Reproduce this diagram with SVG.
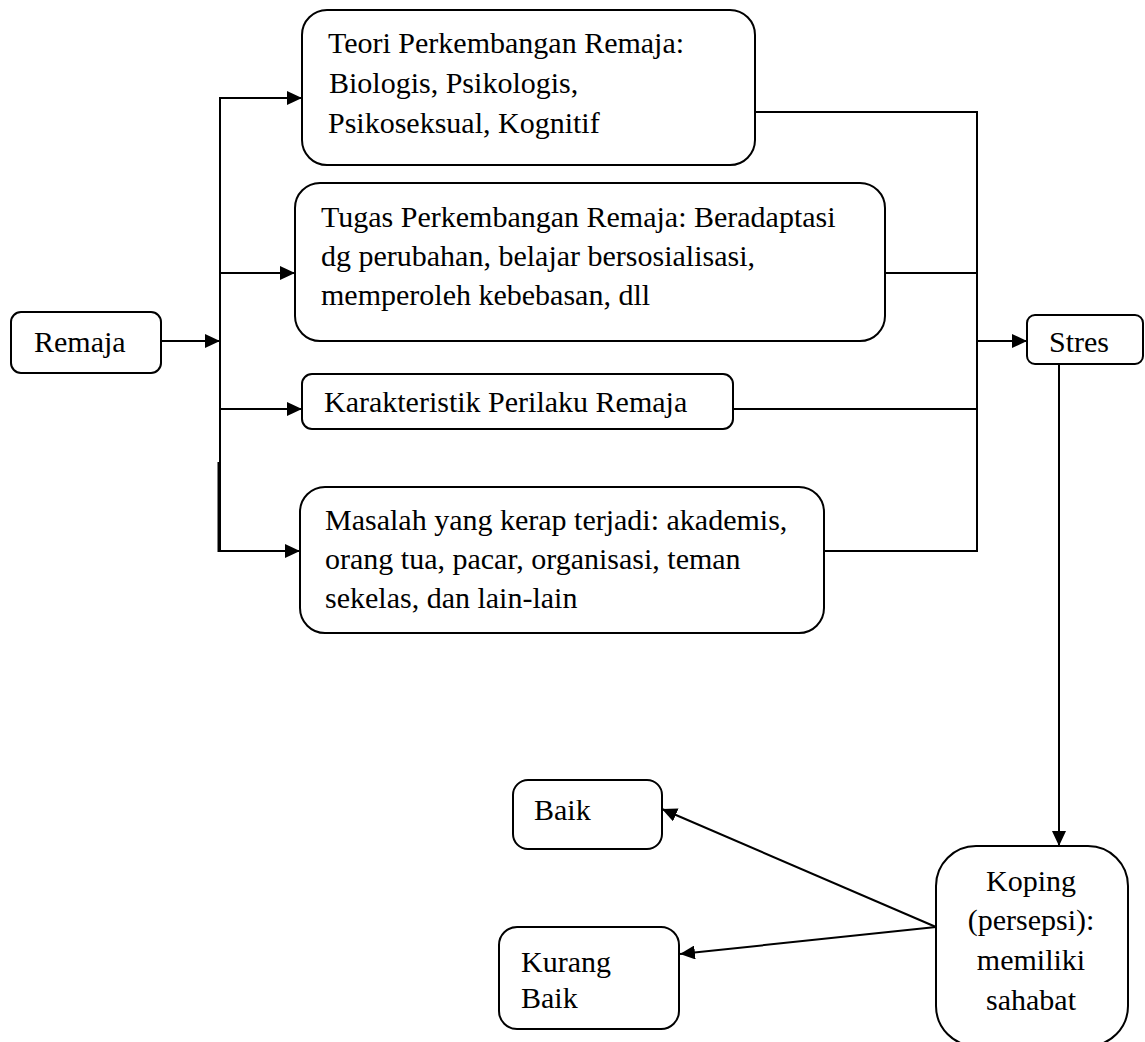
<svg xmlns="http://www.w3.org/2000/svg" width="1145" height="1042" viewBox="0 0 1145 1042">
<style>
.box{fill:#fff;stroke:#000;stroke-width:2}
.t{font-family:"Liberation Serif","Times New Roman",serif;font-size:30px;fill:#000}
.c{fill:none;stroke:#000;stroke-width:2}
</style>
<defs>
<marker id="arr" markerUnits="userSpaceOnUse" markerWidth="15" markerHeight="14" refX="15" refY="7" orient="auto">
<path d="M0,0 L15,7 L0,14 z" fill="#000"/>
</marker>
</defs>
<rect width="1145" height="1042" fill="#fff"/>
<g id="remaja"><rect class="box" x="11" y="312" width="150" height="61" rx="10"/><text class="t" x="34" y="352">Remaja</text></g>
<g id="teori"><rect class="box" x="302" y="10" width="453" height="155" rx="25"/>
<text class="t" x="328" y="53">Teori Perkembangan Remaja:</text>
<text class="t" x="329" y="93">Biologis, Psikologis,</text>
<text class="t" x="328" y="133">Psikoseksual, Kognitif</text></g>
<g id="tugas"><rect class="box" x="295" y="183" width="590" height="158" rx="25"/>
<text class="t" x="321" y="227">Tugas Perkembangan Remaja: Beradaptasi</text>
<text class="t" x="321" y="266">dg perubahan, belajar bersosialisasi,</text>
<text class="t" x="321" y="305">memperoleh kebebasan, dll</text></g>
<g id="karakteristik"><rect class="box" x="302" y="374" width="431" height="55" rx="10"/>
<text class="t" x="324" y="412">Karakteristik Perilaku Remaja</text></g>
<g id="masalah"><rect class="box" x="300" y="487" width="524" height="146" rx="25"/>
<text class="t" x="325" y="530">Masalah yang kerap terjadi: akademis,</text>
<text class="t" x="325" y="569">orang tua, pacar, organisasi, teman</text>
<text class="t" x="325" y="608">sekelas, dan lain-lain</text></g>
<g id="stres"><rect class="box" x="1027" y="315" width="116" height="49" rx="8"/>
<text class="t" x="1049" y="352">Stres</text></g>
<g id="koping"><rect class="box" x="936" y="846" width="192" height="200" rx="40"/>
<text class="t" x="1031" y="891" text-anchor="middle">Koping</text>
<text class="t" x="1031" y="930" text-anchor="middle">(persepsi):</text>
<text class="t" x="1031" y="970" text-anchor="middle">memiliki</text>
<text class="t" x="1031" y="1010" text-anchor="middle">sahabat</text></g>
<g id="baik"><rect class="box" x="513" y="780" width="149" height="69" rx="15"/>
<text class="t" x="534" y="820">Baik</text></g>
<g id="kurang"><rect class="box" x="499" y="927" width="180" height="102" rx="18"/>
<text class="t" x="521" y="972">Kurang</text>
<text class="t" x="521" y="1008">Baik</text></g>
<g id="connectors">
<line class="c" x1="161" y1="341" x2="220" y2="341" marker-end="url(#arr)"/>
<line class="c" x1="220" y1="97" x2="220" y2="552"/>
<line class="c" x1="218.5" y1="462" x2="218.5" y2="552"/>
<line class="c" x1="219" y1="98" x2="302" y2="98" marker-end="url(#arr)"/>
<line class="c" x1="219" y1="273" x2="295" y2="273" marker-end="url(#arr)"/>
<line class="c" x1="219" y1="409" x2="302" y2="409" marker-end="url(#arr)"/>
<line class="c" x1="218" y1="551" x2="300" y2="551" marker-end="url(#arr)"/>
<line class="c" x1="755" y1="112" x2="978" y2="112"/>
<line class="c" x1="885" y1="273" x2="977" y2="273"/>
<line class="c" x1="733" y1="409" x2="977" y2="409"/>
<line class="c" x1="824" y1="551" x2="978" y2="551"/>
<line class="c" x1="977" y1="111" x2="977" y2="552"/>
<line class="c" x1="977" y1="341" x2="1027" y2="341" marker-end="url(#arr)"/>
<line class="c" x1="1059" y1="364" x2="1059" y2="846" marker-end="url(#arr)"/>
<line class="c" x1="936" y1="927" x2="662" y2="809" marker-end="url(#arr)"/>
<line class="c" x1="936" y1="927" x2="680" y2="954" marker-end="url(#arr)"/>
</g>
</svg>
